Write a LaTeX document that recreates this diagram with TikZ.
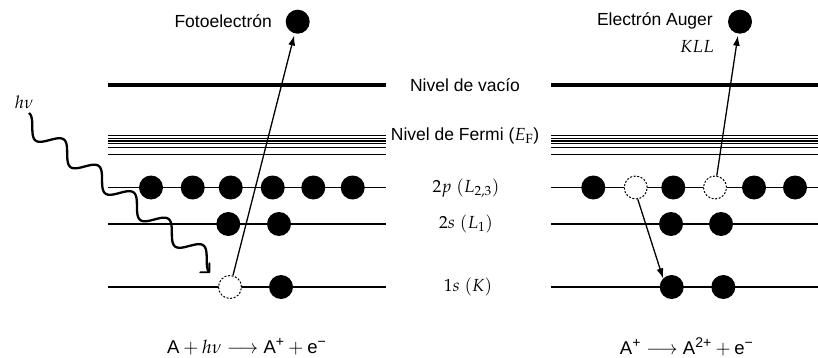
\documentclass[tikz,border=0pt]{standalone}
\usepackage{mathpazo}
\usepackage[no-math]{fontspec}
\setmainfont{Liberation Sans}
\usetikzlibrary{arrows.meta}
\begin{document}
\begin{tikzpicture}[x=1pt,y=-1pt,
  elec/.style={circle,fill=black,inner sep=0pt,minimum size=24pt},
  hole/.style={circle,draw=black,fill=white,inner sep=0pt,minimum size=23pt,line width=1pt,dash pattern=on 2pt off 1.6pt},
  level/.style={line width=1.4pt},
  vac/.style={line width=3.2pt},
  fermi/.style={line width=1.1pt},
  lbl/.style={font=\fontsize{17.5}{20}\selectfont,inner sep=0pt},
  eqn/.style={font=\fontsize{18.5}{22}\selectfont,inner sep=0pt},
  arr/.style={line width=1.3pt,-{Latex[length=10pt,width=7pt]}},
  photon/.style={line width=2.3pt,line join=round,-{Straight Barb[length=6.5pt,width=13pt,round,line width=1.8pt]}}
]
\useasboundingbox (0,0) rectangle (818,358);
% levels
\foreach \xa/\xb in {108/386,551/818}{
  \draw[vac] (\xa,85) -- (\xb,85);
  \draw[line width=1.7pt] (\xa,135.5) -- (\xb,135.5);
  \foreach \yy in {138.3,141,143.6,147.3,154.3}
    \draw[fermi] (\xa,\yy) -- (\xb,\yy);
  \draw[level] (\xa,187.5) -- (\xb,187.5);
  \draw[level] (\xa,224) -- (\xb,224);
  \draw[level] (\xa,287) -- (\xb,287);
}
% level labels
\node[lbl] (lvac) at (465,85) {Nivel de vacío};
\node[lbl] (lfer) at (465,136) {Nivel de Fermi ($E_\mathrm{F}$)};
\node[lbl] (l2p) at (466,188) {$2p\ (L_{2,3})$};
\node[lbl] (l2s) at (466,224) {$2s\ (L_1)$};
\node[lbl] (l1s) at (468,287) {$1s\ (K)$};
% left panel electrons
\node[elec] (a1) at (151,187.5) {};
\node[elec] (a2) at (192.7,187.5) {};
\node[elec] (a3) at (230.7,187.5) {};
\node[elec] (a4) at (272.7,187.5) {};
\node[elec] (a5) at (313.3,187.5) {};
\node[elec] (a6) at (352.7,187.5) {};
\node[elec] (b1) at (228.3,224) {};
\node[elec] (b2) at (279,224) {};
\node[hole] (c1) at (230,287) {};
\node[elec] (c2) at (281,287) {};
\node[elec] (photo) at (297.7,21.7) {};
\node[lbl,anchor=east] (tphoto) at (272,20.7) {Fotoelectrón};
% right panel electrons
\node[elec] (ra1) at (593.3,187.5) {};
\node[hole] (ra2) at (635.7,187.5) {};
\node[elec] (ra3) at (673.3,187.5) {};
\node[hole] (ra4) at (715,187.5) {};
\node[elec] (ra5) at (754,187.5) {};
\node[elec] (ra6) at (795,187.5) {};
\node[elec] (rb1) at (671,224) {};
\node[elec] (rb2) at (721,224) {};
\node[elec] (rc1) at (671.7,287) {};
\node[elec] (rc2) at (723.3,287) {};
\node[elec] (auger) at (740,21.7) {};
\node[lbl,anchor=east] (tauger) at (713,20.7) {Electrón Auger};
\node[lbl,anchor=east] (tkll) at (714,46) {$KLL$};
% arrows
\draw[arr,shorten >=2pt] (c1) -- (photo);
\draw[arr,shorten >=2pt] (ra4) -- (auger);
\draw[arr] (ra2.280) -- (rc1.north west);
% photon
\node[lbl] (hv) at (24,102) {$h\nu$};
\coordinate (hvs) at (29,113);
\draw[photon,shift={(hvs)}] plot[domain=0:240.9,samples=160,variable=\t]
  ({-5.44+0.7965*\t+5.441*cos(8.219*\t)},{7.17+0.6046*\t-7.169*cos(8.219*\t)});
% equations
\node[eqn] (eq1) at (246.7,347) {A${}+h\nu\longrightarrow{}$A\textsuperscript{+}${}+{}$e\textsuperscript{\textminus}};
\node[eqn] (eq2) at (686.7,347) {A\textsuperscript{+}${}\longrightarrow{}$A\textsuperscript{2+}${}+{}$e\textsuperscript{\textminus}};
\end{tikzpicture}
\end{document}
